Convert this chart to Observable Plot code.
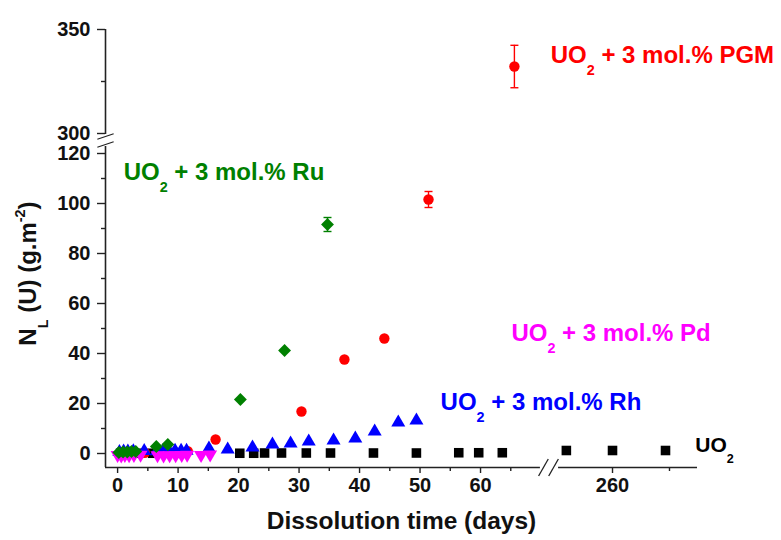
<!DOCTYPE html>
<html><head><meta charset="utf-8">
<script src="https://cdn.jsdelivr.net/npm/d3@7"></script>
<script src="https://cdn.jsdelivr.net/npm/@observablehq/plot@0.6"></script>
<style>
body{margin:0;background:#fff;}
#chart svg{font-family:"Liberation Sans",Arial,sans-serif;font-weight:bold;}
</style>
</head><body><div id="chart"></div>
<script>
// ---------- data (days, N_L(U) in g.m-2) ----------
const uo2Days = [0.5, 2, 3.5, 5.8, 8, 10, 20.2, 22.5, 24.3, 27.1, 31.2, 35.2, 42.3, 49.4, 56.4, 59.7, 63.6, 251.9, 260, 269.3];
const uo2Vals = [0.1, 0.1, 0.1, 0.1, 0.1, 0.1, 0.1, 0.1, 0.2, 0.2, 0.2, 0.2, 0.2, 0.2, 0.3, 0.3, 0.3, 1.2, 1.2, 1.2];

const pgmDays = [0.8, 2.5, 4.5, 7, 9.5, 11.6, 16.2, 30.4, 37.5, 44.1, 51.4, 65.6];
const pgmVals = [0.2, 0.3, 0.3, 0.4, 0.5, 0.9, 5.6, 16.8, 37.6, 46.0, 101.6, 332.2];
const pgmErr  = [0, 0, 0, 0, 0, 0, 0, 0, 0, 0, 3.2, 10.2];

const rhDays = [0.3, 1, 1.7, 2.6, 4.4, 6.5, 7.5, 8.5, 9.5, 10.5, 11.4, 15.1, 18.2, 22.3, 25.6, 28.6, 31.6, 35.7, 39.3, 42.5, 46.4, 49.4];
const rhVals = [0.6, 0.8, 0.8, 0.9, 1.0, 0.9, 1.0, 1.0, 1.1, 1.1, 1.1, 2.0, 1.6, 2.4, 3.6, 4.0, 4.8, 5.2, 6.0, 8.8, 12.4, 13.2];

const pdDays = [0, 0.6, 1.2, 1.9, 2.7, 3.8, 6.6, 7.6, 8.6, 9.6, 10.6, 11.5, 13.8, 15.3];
const pdVals = [-0.6, -0.8, -0.6, -0.7, -0.6, -0.5, -0.7, -0.8, -0.7, -0.7, -0.6, -0.5, -0.6, -0.4];

const ruDays = [0.2, 0.9, 1.6, 2.3, 3.0, 6.4, 8.3, 20.3, 27.6, 34.7];
const ruVals = [0.4, 0.6, 0.6, 0.8, 0.8, 2.8, 3.6, 21.6, 41.2, 91.6];
const ruErr  = [0, 0, 0, 0, 0, 0, 0, 0, 0, 2.8];

const xMajorTicks = [0, 10, 20, 30, 40, 50, 60, 260];
const xMinorTicks = [5, 15, 25, 35, 45, 55, 65, 270];
const yMajorTicks = [0, 20, 40, 60, 80, 100, 120, 300, 350];
const yMinorTicks = [10, 30, 50, 70, 90, 110, 325];

const seriesLabels = ["UO_{2} + 3 mol.% PGM", "UO_{2} + 3 mol.% Ru", "UO_{2} + 3 mol.% Pd", "UO_{2} + 3 mol.% Rh", "UO_{2}"];
const seriesColors = ["#ff0000", "#008000", "#ff00ff", "#0000ff", "#000000"];
// label anchors in (broken-axis) plot units
const labelX = [71.6, 1.0, 65.1, 53.4, 95.5];
const labelY = [159.2, 112.4, 48, 20.4, 3.2];

// ---------- broken-axis mapping ----------
const xt = d => d <= 150 ? d : 81.82 + (d - 260) * 0.942;
const yt = v => v <= 200 ? v : 128 + (v - 300) * 0.832;

const zip = (days, vals, err) => days.map((d, i) => ({day: d, val: vals[i], err: err ? err[i] : 0}));
const uo2 = zip(uo2Days, uo2Vals), pgm = zip(pgmDays, pgmVals, pgmErr), rh = zip(rhDays, rhVals),
      pd = zip(pdDays, pdVals), ru = zip(ruDays, ruVals, ruErr);
const errs = [...pgm.filter(d => d.err > 0).map(d => ({...d, c: "#ff0000"})),
              ...ru.filter(d => d.err > 0).map(d => ({...d, c: "#008000"}))];

const triDown = {draw(ctx, size) {
  const y = -Math.sqrt(size / (3 * Math.sqrt(3)));
  ctx.moveTo(0, -2 * y); ctx.lineTo(-Math.sqrt(3) * y, y); ctx.lineTo(Math.sqrt(3) * y, y); ctx.closePath();
}};
const cap = {draw(ctx, size) { const w = Math.sqrt(size / Math.PI); ctx.moveTo(-w, 0); ctx.lineTo(w, 0); }};

const xDom = [-2, 95.87], yDom = [-5.6, 169.6];
const xMap = new Map(xMajorTicks.map(t => [xt(t), String(t)]));
const yMap = new Map(yMajorTicks.map(t => [yt(t), String(t)]));

const axisSegsX = [{a: xDom[0], b: 69.9}, {a: 72.9, b: xDom[1]}];
const axisSegsY = [{a: yDom[0], b: 122.8}, {a: 127.6, b: yDom[1]}];
const breaksX = [70.4, 72.07];
const breaksY = [123.6, 126.8];

const labels = seriesLabels.map((t, i) => ({t, c: seriesColors[i], x: labelX[i], y: labelY[i]}));

const plot = Plot.plot({
  width: 781, height: 540,
  marginLeft: 105, marginRight: 84, marginTop: 29, marginBottom: 73,
  x: {domain: xDom},
  y: {domain: yDom},
  style: {background: "white", fontFamily: "Liberation Sans, Arial, sans-serif"},
  marks: [
    Plot.ruleY(axisSegsX, {y: yDom[0], x1: "a", x2: "b", stroke: "#222", strokeWidth: 1.6}),
    Plot.ruleX(axisSegsY, {x: xDom[0], y1: "a", y2: "b", stroke: "#222", strokeWidth: 1.6}),
    Plot.link(breaksX, {x1: d => d - 0.8, x2: d => d + 0.8, y1: yDom[0] - 3.4, y2: yDom[0] + 3.4, stroke: "#222", strokeWidth: 1.3}),
    Plot.link(breaksY, {x1: xDom[0] - 1.35, x2: xDom[0] + 1.35, y1: d => d - 1.1, y2: d => d + 1.1, stroke: "#222", strokeWidth: 1.3}),
    Plot.axisX({ticks: xMajorTicks.map(xt), tickFormat: d => xMap.get(d), tickSize: 6, tickPadding: 4, stroke: "#222", strokeWidth: 1.4, label: null}),
    Plot.axisX({ticks: xMinorTicks.map(xt), tickFormat: () => "", tickSize: 4, stroke: "#222", strokeWidth: 1.4, label: null}),
    Plot.axisY({ticks: yMajorTicks.map(yt), tickFormat: d => yMap.get(d), tickSize: 8, tickPadding: 7, stroke: "#222", strokeWidth: 1.4, label: null}),
    Plot.axisY({ticks: yMinorTicks.map(yt), tickFormat: () => "", tickSize: 4, stroke: "#222", strokeWidth: 1.4, label: null}),
    // error bars
    Plot.ruleX(errs, {x: d => xt(d.day), y1: d => yt(d.val - d.err), y2: d => yt(d.val + d.err), stroke: "c", strokeWidth: 1.4}),
    Plot.dot(errs, {x: d => xt(d.day), y: d => yt(d.val - d.err), symbol: cap, r: 4, stroke: "c", fill: "none", strokeWidth: 1.4}),
    Plot.dot(errs, {x: d => xt(d.day), y: d => yt(d.val + d.err), symbol: cap, r: 4, stroke: "c", fill: "none", strokeWidth: 1.4}),
    // series
    Plot.dot(uo2, {x: d => xt(d.day), y: d => yt(d.val), symbol: "square", r: 5.4, fill: "#000", stroke: "none"}),
    Plot.dot(pgm, {x: d => xt(d.day), y: d => yt(d.val), symbol: "circle", r: 5.2, fill: "#ff0000", stroke: "none"}),
    Plot.dot(rh, {x: d => xt(d.day), y: d => yt(d.val), symbol: "triangle", r: 5.2, fill: "#0000ff", stroke: "none"}),
    Plot.dot(pd, {x: d => xt(d.day), y: d => yt(d.val), symbol: triDown, r: 5.2, fill: "#ff00ff", stroke: "none"}),
    Plot.dot(ru, {x: d => xt(d.day), y: d => yt(d.val), symbol: "diamond2", r: 5.8, fill: "#008000", stroke: "none"}),
    // series labels
    Plot.text(labels.slice(0, 4), {x: "x", y: "y", text: "t", fill: "c", textAnchor: "start", fontSize: 24, fontWeight: "bold"}),
    Plot.text(labels.slice(4), {x: "x", y: "y", text: "t", fill: "c", textAnchor: "start", fontSize: 21, fontWeight: "bold"}),
    // axis titles
    Plot.text(["Dissolution time (days)"], {frameAnchor: "bottom", dy: 61, fontSize: 24.5, fontWeight: "bold", fill: "#111"}),
    Plot.text(["N_{L} (U) (g.m^{-2})"], {frameAnchor: "left", textAnchor: "middle", dx: -77, dy: 25, rotate: -90, fontSize: 24, fontWeight: "bold", fill: "#111"})
  ]
});

const svg = d3.select(plot);
// tick labels: larger bold digits
svg.selectAll("text").filter(function() { return /^\d+$/.test(this.textContent.trim()); })
  .style("font-size", "20px").style("font-weight", "bold").attr("fill", "#111");

// rich text: _{sub} and ^{sup}
svg.selectAll("text").each(function() {
  const s = this.textContent;
  if (!/[_^]\{/.test(s)) return;
  const el = this;
  while (el.firstChild) el.removeChild(el.firstChild);
  const re = /([_^])\{([^}]*)\}/g;
  let last = 0, m, pendingDy = null;
  const addPlain = (txt) => {
    if (!txt) return;
    if (pendingDy !== null) {
      const sp = document.createElementNS("http://www.w3.org/2000/svg", "tspan");
      sp.setAttribute("dy", pendingDy); sp.textContent = txt; el.appendChild(sp); pendingDy = null;
    } else el.appendChild(document.createTextNode(txt));
  };
  while ((m = re.exec(s))) {
    addPlain(s.slice(last, m.index));
    const sp = document.createElementNS("http://www.w3.org/2000/svg", "tspan");
    sp.setAttribute("font-size", "60%");
    if (m[1] === "_") { sp.setAttribute("dy", "0.83em"); pendingDy = "-0.5em"; }
    else { sp.setAttribute("dy", "-0.75em"); pendingDy = "0.45em"; }
    sp.textContent = m[2];
    el.appendChild(sp);
    last = re.lastIndex;
  }
  addPlain(s.slice(last));
});

document.getElementById("chart").appendChild(plot);
</script>
</body></html>
